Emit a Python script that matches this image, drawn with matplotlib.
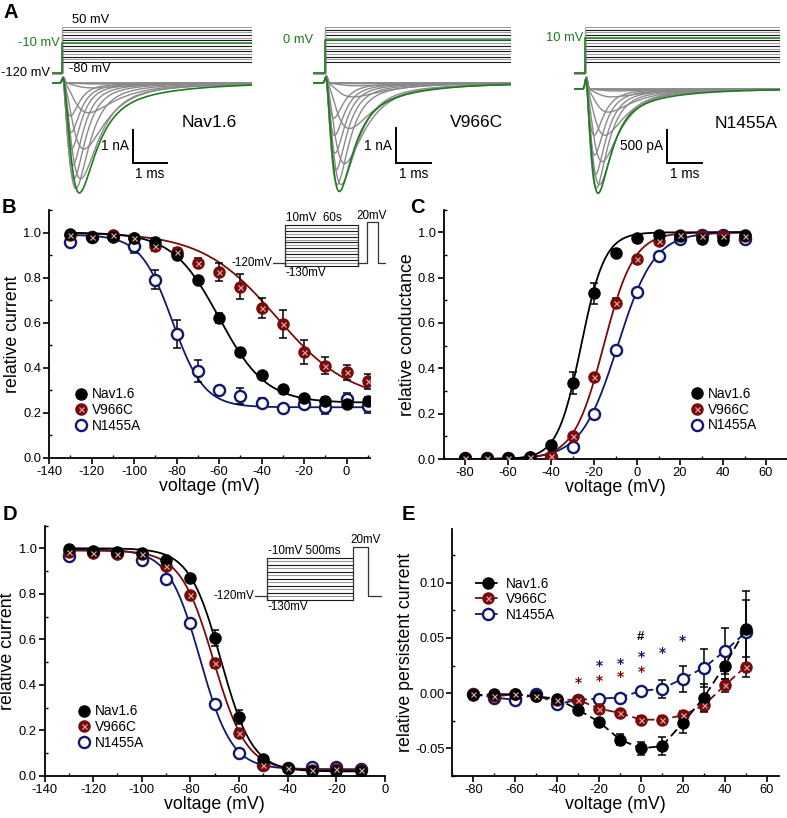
import matplotlib.pyplot as plt
import numpy as np
from matplotlib.lines import Line2D
from matplotlib.ticker import MultipleLocator, FormatStrFormatter

plt.rcParams['font.family'] = ['Liberation Sans', 'DejaVu Sans']
plt.rcParams['axes.unicode_minus'] = False

WINE = '#7a0b0b'
NAVY = '#12196b'
GREEN = '#1e7b1e'
TRACE = '#8a8a8a'
CROSS = '#d8a4a4'

# ---------- A: step protocol and current families
test_v = [-80, -70, -60, -50, -40, -30, -20, -10, 0, 10, 20, 30, 40, 50]
hold_v = -120
green_v = [-10, 0, 10]
names = ['Nav1.6', 'V966C', 'N1455A']

# peak current (nA) for each test step
amp_nav = [0, 0, 0.03, 0.15, 0.9, 2.0, 2.9, 3.33, 3.2, 2.9, 2.5, 2.0, 1.5, 1.0]
amp_v966 = [0, 0, 0.02, 0.08, 0.4, 1.3, 2.3, 2.9, 3.1, 2.9, 2.5, 2.0, 1.5, 1.0]
amp_n1455 = [0, 0, 0.01, 0.03, 0.12, 0.35, 0.7, 1.1, 1.45, 1.58, 1.5, 1.3, 1.0, 0.7]
# activation / inactivation time constants (ms)
tm_nav = [0.55, 0.5, 0.45, 0.42, 0.38, 0.33, 0.29, 0.26, 0.22, 0.19, 0.17, 0.15, 0.14, 0.13]
th_nav = [1.6, 1.4, 1.2, 1.0, 0.8, 0.62, 0.5, 0.45, 0.36, 0.31, 0.28, 0.26, 0.25, 0.24]
tm_v966 = [0.55, 0.5, 0.45, 0.42, 0.38, 0.34, 0.28, 0.23, 0.2, 0.18, 0.16, 0.15, 0.14, 0.13]
th_v966 = [1.6, 1.4, 1.2, 1.0, 0.85, 0.7, 0.55, 0.45, 0.37, 0.32, 0.29, 0.27, 0.26, 0.25]
tm_n1455 = [0.5, 0.45, 0.42, 0.4, 0.36, 0.32, 0.28, 0.24, 0.2, 0.18, 0.16, 0.15, 0.14, 0.13]
th_n1455 = [1.4, 1.3, 1.2, 1.0, 0.85, 0.7, 0.58, 0.5, 0.42, 0.36, 0.32, 0.29, 0.27, 0.26]
slow_frac = [0.05, 0.06, 0.05]   # share of slow decay, green trace keeps more
blip_nA = [0.18, 0.2, 0.18]

amps = [amp_nav, amp_v966, amp_n1455]
tms = [tm_nav, tm_v966, tm_n1455]
ths = [th_nav, th_v966, th_n1455]

# ---------- B: slow inactivation (60 s prepulse)
b_v = [-130, -120, -110, -100, -90, -80, -70, -60, -50, -40, -30, -20, -10, 0, 10]
b_nav = [0.995, 0.98, 0.98, 0.975, 0.96, 0.90, 0.79, 0.62, 0.47, 0.37, 0.305, 0.265, 0.255, 0.24, 0.255]
b_nav_err = [0.01, 0.01, 0.01, 0.01, 0.015, 0.015, 0.015, 0.022, 0.015, 0.01, 0.01, 0.015, 0.015, 0.015, 0.015]
b_v966 = [0.99, 0.98, 0.99, 0.975, 0.94, 0.915, 0.865, 0.825, 0.76, 0.665, 0.595, 0.47, 0.41, 0.38, 0.34]
b_v966_err = [0.01, 0.01, 0.01, 0.01, 0.02, 0.015, 0.02, 0.038, 0.054, 0.046, 0.063, 0.052, 0.038, 0.033, 0.032]
b_n1455 = [0.96, 0.98, 0.985, 0.94, 0.79, 0.55, 0.385, 0.30, 0.275, 0.245, 0.22, 0.24, 0.225, 0.26, 0.23]
b_n1455_err = [0.01, 0.01, 0.01, 0.03, 0.042, 0.06, 0.05, 0.02, 0.035, 0.02, 0.01, 0.015, 0.03, 0.03, 0.03]
fit_b_nav = [1.0, 0.245, -60, 11]
fit_b_v966 = [1.0, 0.25, -33, 17.5]
fit_b_n1455 = [0.99, 0.225, -82, 7.5]

# ---------- C: activation
c_v = [-80, -70, -60, -50, -40, -30, -20, -10, 0, 10, 20, 30, 40, 50]
c_nav = [0.005, 0.005, 0.005, 0.01, 0.06, 0.335, 0.73, 0.91, 0.975, 0.99, 0.985, 0.97, 0.965, 0.99]
c_nav_err = [0, 0, 0, 0.005, 0.01, 0.05, 0.045, 0.015, 0.01, 0.01, 0.01, 0.01, 0.01, 0.01]
c_v966 = [0.005, 0.005, 0.005, 0.01, 0.015, 0.10, 0.36, 0.69, 0.88, 0.96, 0.99, 0.985, 0.985, 0.985]
c_v966_err = [0, 0, 0, 0.005, 0.005, 0.01, 0.015, 0.02, 0.01, 0.01, 0.01, 0.01, 0.01, 0.01]
c_n1455 = [0.005, 0.005, 0.005, 0.005, 0.01, 0.055, 0.20, 0.48, 0.735, 0.895, 0.97, 0.99, 0.99, 0.97]
c_n1455_err = [0, 0, 0, 0.005, 0.005, 0.01, 0.01, 0.015, 0.01, 0.01, 0.01, 0.01, 0.01, 0.01]
fit_c_nav = [-26, 5.5]
fit_c_v966 = [-15.5, 7]
fit_c_n1455 = [-9, 8.5]

# ---------- D: fast inactivation (500 ms prepulse)
d_v = [-130, -120, -110, -100, -90, -80, -70, -60, -50, -40, -30, -20, -10]
d_nav = [0.995, 0.99, 0.985, 0.98, 0.95, 0.87, 0.605, 0.26, 0.075, 0.035, 0.02, 0.02, 0.02]
d_nav_err = [0.005, 0.005, 0.005, 0.01, 0.01, 0.01, 0.035, 0.03, 0.01, 0.005, 0.005, 0.005, 0.005]
d_v966 = [0.985, 0.98, 0.975, 0.975, 0.92, 0.795, 0.495, 0.19, 0.05, 0.035, 0.025, 0.03, 0.025]
d_v966_err = [0.005, 0.005, 0.005, 0.01, 0.01, 0.01, 0.02, 0.015, 0.01, 0.005, 0.005, 0.005, 0.005]
d_n1455 = [0.965, 0.985, 0.98, 0.95, 0.865, 0.67, 0.315, 0.10, 0.05, 0.035, 0.04, 0.04, 0.03]
d_n1455_err = [0.005, 0.005, 0.005, 0.01, 0.01, 0.01, 0.01, 0.01, 0.005, 0.005, 0.005, 0.005, 0.005]
fit_d_nav = [1.0, 0.02, -67.5, 6.5]
fit_d_v966 = [0.99, 0.025, -70.5, 6.8]
fit_d_n1455 = [0.995, 0.03, -76, 6.5]

# ---------- E: persistent current
e_v = [-80, -70, -60, -50, -40, -30, -20, -10, 0, 10, 20, 30, 40, 50]
e_nav = [-0.002, -0.001, -0.001, -0.003, -0.005, -0.015, -0.026, -0.042, -0.050, -0.048, -0.027, -0.004, 0.025, 0.058]
e_nav_err = [0.002, 0.002, 0.002, 0.002, 0.002, 0.003, 0.003, 0.005, 0.006, 0.008, 0.009, 0.012, 0.012, 0.034]
e_v966 = [-0.001, -0.003, -0.001, -0.003, -0.006, -0.006, -0.014, -0.018, -0.024, -0.024, -0.020, -0.011, 0.007, 0.024]
e_v966_err = [0.002, 0.002, 0.002, 0.002, 0.002, 0.003, 0.003, 0.003, 0.003, 0.003, 0.004, 0.006, 0.006, 0.009]
e_n1455 = [-0.001, -0.004, -0.006, -0.001, -0.010, -0.006, -0.005, -0.004, 0.002, 0.004, 0.013, 0.023, 0.038, 0.055]
e_n1455_err = [0.002, 0.002, 0.002, 0.002, 0.002, 0.002, 0.003, 0.003, 0.004, 0.008, 0.012, 0.017, 0.021, 0.029]
star_v966_v = [-30, -20, -10, 0]
star_v966_y = [0.013, 0.015, 0.018, 0.023]
star_n1455_v = [-20, -10, 0, 10, 20]
star_n1455_y = [0.028, 0.030, 0.036, 0.040, 0.051]
hash_v = [0]
hash_y = [0.051]

W, H = 787, 818
fig = plt.figure(figsize=(W / 100, H / 100), dpi=100)

TICK_FS = 9.3
LAB_FS = 12.8
LEG_FS = 9.8
INS_FS = 8.4
MS = 8


def box(x0, y0, x1, y1):
    # pixel box, origin at top left
    return fig.add_axes([x0 / W, 1 - y1 / H, (x1 - x0) / W, (y1 - y0) / H])


def na_current(t, amp, tm, th, blip, slow):
    s = np.clip(t, 0, None)
    g = (1 - np.exp(-s / tm)) ** 3 * ((1 - slow) * np.exp(-s / th) + slow * np.exp(-s / (4 * th)))
    g = g / g.max()
    return -amp * g + blip * np.exp(-((t - 0.04) / 0.05) ** 2)


def inact(v, a1, a2, vh, k):
    return a2 + (a1 - a2) / (1 + np.exp((v - vh) / k))


def act(v, vh, k):
    return 1 / (1 + np.exp((vh - v) / k))


def style(ax, xmaj, xmin, ymaj, ymin, yfmt):
    ax.spines['top'].set_visible(False)
    ax.spines['right'].set_visible(False)
    for s in ['left', 'bottom']:
        ax.spines[s].set_linewidth(1.3)
    ax.xaxis.set_major_locator(MultipleLocator(xmaj))
    ax.xaxis.set_minor_locator(MultipleLocator(xmin))
    ax.yaxis.set_major_locator(MultipleLocator(ymaj))
    ax.yaxis.set_minor_locator(MultipleLocator(ymin))
    ax.yaxis.set_major_formatter(FormatStrFormatter(yfmt))
    ax.tick_params(which='major', direction='out', length=4, width=1.2, labelsize=TICK_FS, pad=1.5)
    ax.tick_params(which='minor', direction='in', length=2.5, width=1.0)
    ax.set_xlabel('voltage (mV)', fontsize=LAB_FS, labelpad=0)


def series(ax, x, y, err, kind, ls='none'):
    ax.errorbar(x, y, yerr=err, fmt='none', ecolor='k', elinewidth=1.1,
                capsize=3.2, capthick=1.1, zorder=3)
    if kind == 'nav':
        ax.plot(x, y, marker='o', ls=ls, color='k', ms=MS, lw=1.3, zorder=4)
    elif kind == 'v966':
        ax.plot(x, y, marker='o', ls=ls, color=WINE, ms=MS, lw=1.3, zorder=4)
        ax.plot(x, y, 'x', color=CROSS, ms=3.6, mew=0.9, zorder=5)
    else:
        ax.plot(x, y, marker='o', ls=ls, color=NAVY, mfc='white', mec=NAVY,
                ms=MS, mew=1.7, lw=1.3, zorder=4)


def legend(ax, x, y, ls='none', hl=0.9):
    h_nav = Line2D([], [], marker='o', ls=ls, color='k', ms=MS, lw=1.3)
    h_v966 = (Line2D([], [], marker='o', ls=ls, color=WINE, ms=MS, lw=1.3),
              Line2D([], [], marker='x', ls='none', color=CROSS, ms=3.6, mew=0.9))
    h_n1455 = Line2D([], [], marker='o', ls=ls, color=NAVY, mfc='white', mec=NAVY, ms=MS, mew=1.7, lw=1.3)
    ax.legend([h_nav, h_v966, h_n1455], names, loc='upper left', bbox_to_anchor=(x, y),
              frameon=False, fontsize=LEG_FS, handlelength=hl, handletextpad=0.35,
              labelspacing=0.12, borderpad=0, borderaxespad=0, numpoints=1)


# ---------- panel A
col_x0 = [52, 313, 574]
col_x1 = [252, 511, 780]
col_on = [62, 325, 585]
col_pxms = [34, 35, 35]
col_base = [83, 83, 89]
col_pxna = [33, 35, 66]
bar_t = [2.09, 2.03, 2.34]
bar_top = [-1.42, -1.29, -0.62]
bar_size = [1.0, 1.0, 0.5]
bar_text = ['1 nA', '1 nA', '500 pA']
name_pos = [(3.53, -1.21), (3.57, -1.14), (3.71, -0.52)]
glabel_t = [-0.06, -0.35, -0.06]
glabel_txt = ['-10 mV', '0 mV', '10 mV']

for i in range(3):
    x0, x1, on, pms = col_x0[i], col_x1[i], col_on[i], col_pxms[i]
    t0, t1 = (x0 - on) / pms, (x1 - on) / pms
    axp = box(x0, 18, x1, 76)
    axp.set_xlim(t0, t1)
    axp.set_ylim(-132, 83.4)
    axp.axis('off')
    for j, v in enumerate(test_v):
        c = '#1a1a1a' if j % 2 == 0 else '#a0a0a0'
        axp.plot([t0, 0, 0, t1], [hold_v, hold_v, v, v], color=c, lw=0.8)
    g = green_v[i]
    axp.plot([t0, 0, 0, t1], [hold_v, hold_v, g, g], color=GREEN, lw=1.1)
    axp.text(glabel_t[i], g, glabel_txt[i], color=GREEN, fontsize=9.3, ha='right', va='center')
    if i == 0:
        axp.text(t0 - 0.05, hold_v, '-120 mV', fontsize=9.3, ha='right', va='center')
        axp.text(0.3, 52, '50 mV', fontsize=9.3, ha='left', va='bottom')
        axp.text(0.2, -84, '-80 mV', fontsize=9.3, ha='left', va='top')

    base, pna = col_base[i], col_pxna[i]
    axt = box(x0, 70, x1, 205)
    axt.set_xlim(t0, t1)
    axt.set_ylim(-(205 - base) / pna, (base - 70) / pna)
    axt.axis('off')
    t = np.linspace(t0, t1, 900)
    gi = test_v.index(g)
    for j in range(len(test_v)):
        if j != gi:
            axt.plot(t, na_current(t, amps[i][j], tms[i][j], ths[i][j], blip_nA[i], slow_frac[i]),
                     color=TRACE, lw=1.0)
    axt.plot(t, na_current(t, amps[i][gi], tms[i][gi], ths[i][gi], blip_nA[i], 2 * slow_frac[i]),
             color=GREEN, lw=1.2)
    bt, btop, bs = bar_t[i], bar_top[i], bar_size[i]
    axt.plot([bt, bt, bt + 1], [btop, btop - bs, btop - bs], color='k', lw=1.4,
             solid_joinstyle='miter')
    axt.text(bt - 0.12, btop - bs / 2, bar_text[i], fontsize=9.8, ha='right', va='center')
    axt.text(bt + 0.5, btop - bs - 0.12 / (pna / 33), '1 ms', fontsize=9.8, ha='center', va='top')
    axt.text(name_pos[i][0], name_pos[i][1], names[i], fontsize=12.5, ha='left', va='center')

# ---------- panel B
axB = box(49, 210, 370, 458)
vb = np.linspace(-130, 10, 300)
axB.plot(vb, inact(vb, *fit_b_n1455), color=NAVY, lw=1.3, zorder=2)
axB.plot(vb, inact(vb, *fit_b_v966), color=WINE, lw=1.3, zorder=2)
axB.plot(vb, inact(vb, *fit_b_nav), color='k', lw=1.3, zorder=2)
series(axB, b_v, b_n1455, b_n1455_err, 'n1455')
series(axB, b_v, b_v966, b_v966_err, 'v966')
series(axB, b_v, b_nav, b_nav_err, 'nav')
axB.set_xlim(-140, 11)
axB.set_ylim(0, 1.1)
style(axB, 20, 10, 0.2, 0.1, '%.1f')
axB.set_ylabel('relative current', fontsize=LAB_FS, labelpad=2)
legend(axB, 0.08, 0.285)

# inset protocol for B
prot_b_levels = [10, 0, -10, -20, -30, -40, -50, -60, -70, -80, -90, -100, -110, -120, -130]
prot_b_t = [0, 12, 85, 94, 105, 113]
insB = box(273, 215, 386, 270)
insB.set_xlim(0, 113)
insB.set_ylim(-144.8, 44.4)
insB.axis('off')
for j, lv in enumerate(prot_b_levels):
    c = '#1a1a1a' if j % 2 == 0 else '#9a9a9a'
    insB.plot([prot_b_t[1], prot_b_t[2]], [lv, lv], color=c, lw=0.8)
insB.plot([prot_b_t[0], prot_b_t[1], prot_b_t[1], prot_b_t[1]], [-120, -120, -130, 10], color='#333333', lw=0.9)
insB.plot([prot_b_t[2], prot_b_t[2], prot_b_t[2], prot_b_t[3], prot_b_t[3], prot_b_t[4], prot_b_t[4], prot_b_t[5]],
          [10, -130, -120, -120, 20, 20, -120, -120], color='#333333', lw=0.9)
insB.text(-0.5, -120, '-120mV', fontsize=INS_FS, ha='right', va='center')
insB.text(13, 12, '10mV  60s', fontsize=INS_FS, ha='left', va='bottom')
insB.text(13, -133, '-130mV', fontsize=INS_FS, ha='left', va='top')
insB.text(83, 22, '20mV', fontsize=INS_FS, ha='left', va='bottom')

# ---------- panel C
axC = box(443.5, 209.6, 787.5, 459)
vc = np.linspace(-80, 50, 300)
axC.plot(vc, act(vc, *fit_c_n1455), color=NAVY, lw=1.3, zorder=2)
axC.plot(vc, act(vc, *fit_c_v966), color=WINE, lw=1.3, zorder=2)
axC.plot(vc, act(vc, *fit_c_nav), color='k', lw=1.3, zorder=2)
series(axC, c_v, c_n1455, c_n1455_err, 'n1455')
series(axC, c_v, c_v966, c_v966_err, 'v966')
series(axC, c_v, c_nav, c_nav_err, 'nav')
axC.set_xlim(-90, 70)
axC.set_ylim(0, 1.1)
style(axC, 20, 10, 0.2, 0.1, '%.1f')
axC.set_ylabel('relative conductance', fontsize=LAB_FS, labelpad=1)
legend(axC, 0.719, 0.288)

# ---------- panel D
axD = box(44.5, 525.5, 385, 776)
vd = np.linspace(-130, -10, 300)
axD.plot(vd, inact(vd, *fit_d_n1455), color=NAVY, lw=1.3, zorder=2)
axD.plot(vd, inact(vd, *fit_d_v966), color=WINE, lw=1.3, zorder=2)
axD.plot(vd, inact(vd, *fit_d_nav), color='k', lw=1.3, zorder=2)
series(axD, d_v, d_n1455, d_n1455_err, 'n1455')
series(axD, d_v, d_v966, d_v966_err, 'v966')
series(axD, d_v, d_nav, d_nav_err, 'nav')
axD.set_xlim(-140, 0)
axD.set_ylim(0, 1.1)
style(axD, 20, 10, 0.2, 0.1, '%.1f')
axD.set_ylabel('relative current', fontsize=LAB_FS, labelpad=2)
legend(axD, 0.0975, 0.286)

# inset protocol for D
prot_d_levels = [-10, -20, -30, -40, -50, -60, -70, -80, -90, -100, -110, -120, -130]
prot_d_t = [0, 12, 97.7, 113.3, 126.7]
insD = box(255, 540, 382, 605)
insD.set_xlim(0, 127)
insD.set_ylim(-145.5, 40.3)
insD.axis('off')
for j, lv in enumerate(prot_d_levels):
    c = '#1a1a1a' if j % 2 == 0 else '#9a9a9a'
    insD.plot([prot_d_t[1], prot_d_t[2]], [lv, lv], color=c, lw=0.8)
insD.plot([prot_d_t[0], prot_d_t[1], prot_d_t[1], prot_d_t[1]], [-120, -120, -130, -10], color='#333333', lw=0.9)
insD.plot([prot_d_t[2], prot_d_t[2], prot_d_t[3], prot_d_t[3], prot_d_t[4]],
          [-130, 20, 20, -120, -120], color='#333333', lw=0.9)
insD.text(-0.5, -120, '-120mV', fontsize=INS_FS, ha='right', va='center')
insD.text(13, -8, '-10mV 500ms', fontsize=INS_FS, ha='left', va='bottom')
insD.text(13, -133, '-130mV', fontsize=INS_FS, ha='left', va='top')
insD.text(95, 22, '20mV', fontsize=INS_FS, ha='left', va='bottom')

# ---------- panel E
axE = box(452.3, 528.5, 779.2, 776)
dash = (0, (5, 2.5))
series(axE, e_v, e_n1455, e_n1455_err, 'n1455', ls=dash)
series(axE, e_v, e_v966, e_v966_err, 'v966', ls=dash)
series(axE, e_v, e_nav, e_nav_err, 'nav', ls=dash)
for v, y in zip(star_v966_v, star_v966_y):
    axE.annotate('*', (v, y), xytext=(0, -5.8), textcoords='offset points', color=WINE,
                 fontsize=10, fontweight='bold', family='DejaVu Sans', ha='center', va='baseline')
for v, y in zip(star_n1455_v, star_n1455_y):
    axE.annotate('*', (v, y), xytext=(0, -5.8), textcoords='offset points', color=NAVY,
                 fontsize=10, fontweight='bold', family='DejaVu Sans', ha='center', va='baseline')
for v, y in zip(hash_v, hash_y):
    axE.text(v, y, '#', color='k', fontsize=9.5, fontweight='bold', ha='center', va='center')
axE.set_xlim(-90, 66)
axE.set_ylim(-0.075, 0.149)
style(axE, 20, 10, 0.05, 0.025, '%.2f')
axE.set_ylabel('relative persistent current', fontsize=LAB_FS, labelpad=1)
legend(axE, 0.069, 0.806, ls=dash, hl=1.9)

# panel letters
for lab, x, y in [('A', 4, 18), ('B', 2, 213), ('C', 410, 213), ('D', 3, 520), ('E', 402, 520)]:
    fig.text(x / W, 1 - y / H, lab, fontsize=14.5, fontweight='bold', va='baseline')

fig.savefig('out.png', dpi=100)
